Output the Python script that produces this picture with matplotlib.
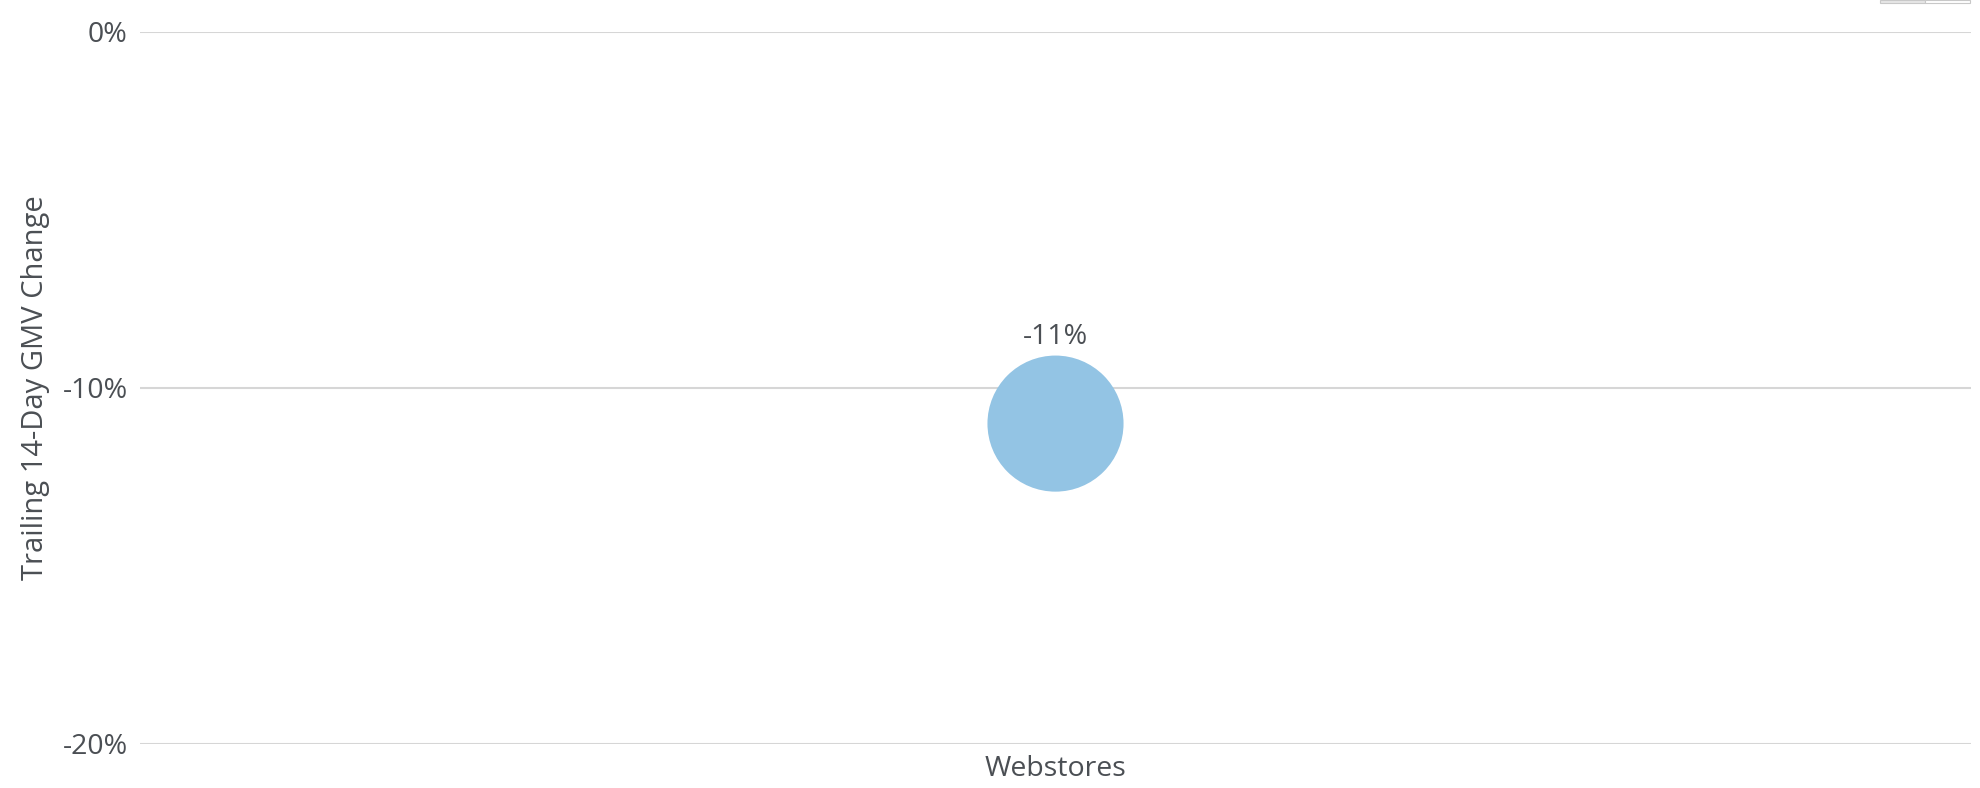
import matplotlib.pyplot as plt
from matplotlib.patches import Rectangle

plt.rcParams['font.family'] = ['Open Sans', 'DejaVu Sans']

# Data
categories = ["Webstores"]
gmv_change = [-11]          # trailing 14-day GMV change, %
y_ticks = [0, -10, -20]
y_tick_labels = ["0%", "-10%", "-20%"]

text_color = "#4b4f54"
bubble_color = "#93c4e4"
grid_color = "#d6d6d6"

W, H = 1980, 788
fig = plt.figure(figsize=(W / 100, H / 100), dpi=100)
ax = fig.add_axes([140 / W, 1 - 744 / H, (1971 - 140) / W, (744 - 32) / H])

x_pos = list(range(len(categories)))
ax.scatter(x_pos, gmv_change, s=9600, color=bubble_color, edgecolors="none",
           zorder=3, clip_on=False)

for x, v in zip(x_pos, gmv_change):
    ax.annotate(f"{v}%", (x, v), xytext=(0, 62), textcoords="offset points",
                ha="center", va="center", fontsize=20.5, color=text_color)

ax.set_xlim(-0.5, len(categories) - 0.5)
ax.set_ylim(-20, 0)
ax.set_yticks(y_ticks)
ax.set_yticklabels(y_tick_labels)
ax.set_xticks(x_pos)
ax.set_xticklabels(categories)

ax.grid(axis="y", color=grid_color, linewidth=1.5, zorder=0)
ax.set_axisbelow(True)
for s in ax.spines.values():
    s.set_visible(False)
ax.tick_params(axis="y", length=0, pad=9, labelsize=20.5, labelcolor=text_color)
ax.tick_params(axis="x", length=0, pad=8, labelsize=20.5, labelcolor=text_color)

ax.set_ylabel("Trailing 14-Day GMV Change", fontsize=21, color=text_color)
ax.yaxis.set_label_coords(-0.049, 0.5)

# cut-off export button at the top right
fig.patches.append(Rectangle((1880 / W, 1 - 3 / H), 45 / W, 3 / H, transform=fig.transFigure,
                             facecolor="#e6e6e6", edgecolor="#c8c8c8", linewidth=0.8))
fig.patches.append(Rectangle((1925 / W, 1 - 3 / H), 45 / W, 3 / H, transform=fig.transFigure,
                             facecolor="white", edgecolor="#c8c8c8", linewidth=0.8))

fig.savefig("out.png", dpi=100)
